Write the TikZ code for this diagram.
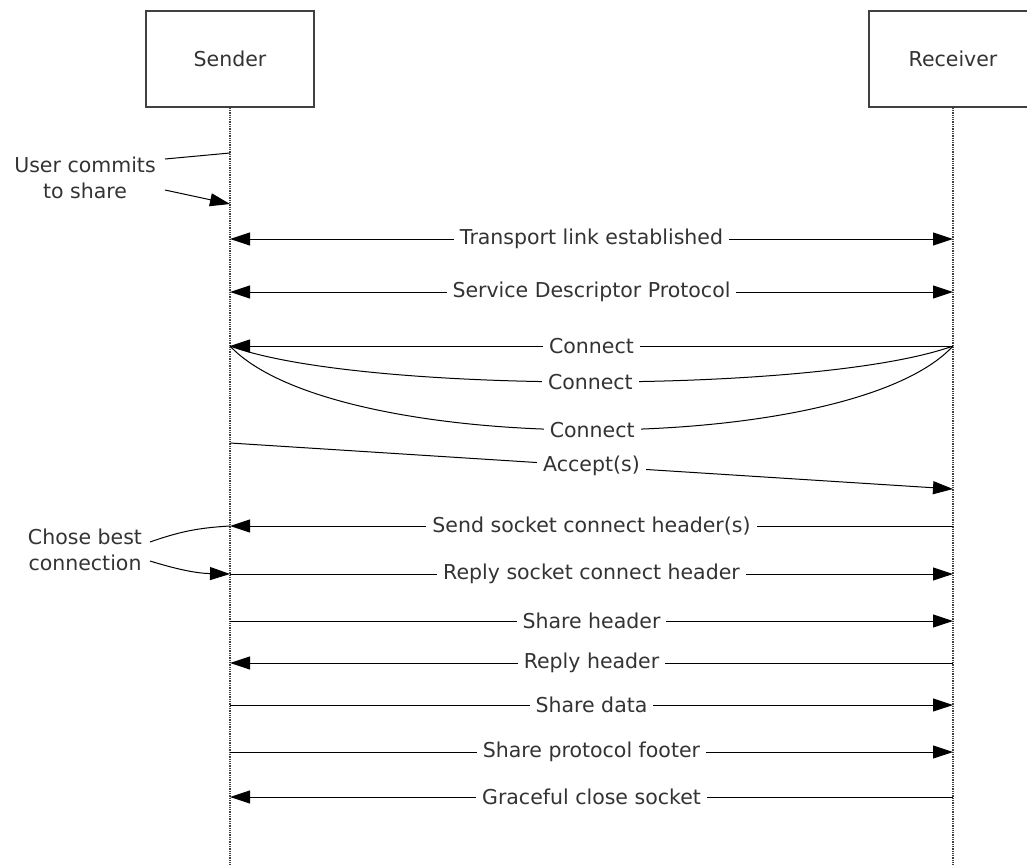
\documentclass[tikz,border=0pt]{standalone}
\usepackage{fontspec}
\setmainfont{DejaVu Sans}
\usetikzlibrary{arrows.meta}

\tikzset{
  actor/.style={draw=black!75,line width=1.3pt,fill=white,minimum width=168pt,minimum height=96pt,inner sep=0pt,text=black!80},
  life/.style={black!75,densely dotted,line width=1.3pt},
  msg/.style={line width=1pt,>={Triangle[length=20pt,width=13pt]}},
  lbl/.style={fill=white,inner sep=6pt,text=black!80},
  note/.style={align=center,text=black!80}
}

\begin{document}
\begin{tikzpicture}[x=1pt,y=-1pt,font=\fontsize{20.5}{26.5}\selectfont]
\useasboundingbox (0,0) rectangle (1027,865);
% lifelines
\node[actor] (sender) at (230,59) {Sender};
\node[actor] (receiver) at (953,59) {Receiver};
\coordinate (sendend) at (230,865);
\coordinate (recvend) at (953,865);
\draw[life] (sender.south) -- (sendend);
\draw[life] (receiver.south) -- (recvend);

% straight messages
\foreach \i/\y/\dir/\txt in {1/239/<->/Transport link established,
                             2/292/<->/Service Descriptor Protocol,
                             5/526/<-/Send socket connect header(s),
                             6/574/->/Reply socket connect header,
                             7/621/->/Share header,
                             8/663/<-/Reply header,
                             9/705/->/Share data,
                             10/752/->/Share protocol footer,
                             11/797/<-/Graceful close socket} {
  \coordinate (s\i) at (230,\y);
  \coordinate (r\i) at (953,\y);
  \draw[msg,arrows/.expanded=\dir] (s\i) -- node[lbl] (m\i) {\txt} (r\i);
}

% connect attempts
\coordinate (s3) at (230,346);
\coordinate (r3) at (953,346);
\draw[msg] (r3) .. controls (850,458) and (335,458) .. node[lbl] (c3) {Connect} (s3);
\draw[msg] (r3) .. controls (820,394) and (360,394) .. node[lbl] (c2) {Connect} (s3);
\draw[msg,<-] (s3) -- node[lbl] (c1) {Connect} (r3);

% accept
\coordinate (s4) at (230,443);
\coordinate (r4) at (953,489);
\draw[msg,->] (s4) -- node[lbl] (m4) {Accept(s)} (r4);

% notes
\node[note] (commit) at (85,178) {User commits\\to share};
\coordinate (cm1) at (165,159);
\coordinate (cm2) at (165,190);
\coordinate (s0) at (230,153);
\coordinate (s0b) at (230,204);
\draw[msg] (cm1) -- (s0);
\draw[msg,->] (cm2) -- (s0b);

\node[note] (chose) at (85,550) {Chose best\\connection};
\coordinate (ch1) at (150,542);
\coordinate (ch2) at (150,561);
\draw[msg] (ch1) to[bend left=8] (s5);
\draw[msg,->] (ch2) to[bend right=8] (s6);
\end{tikzpicture}
\end{document}
